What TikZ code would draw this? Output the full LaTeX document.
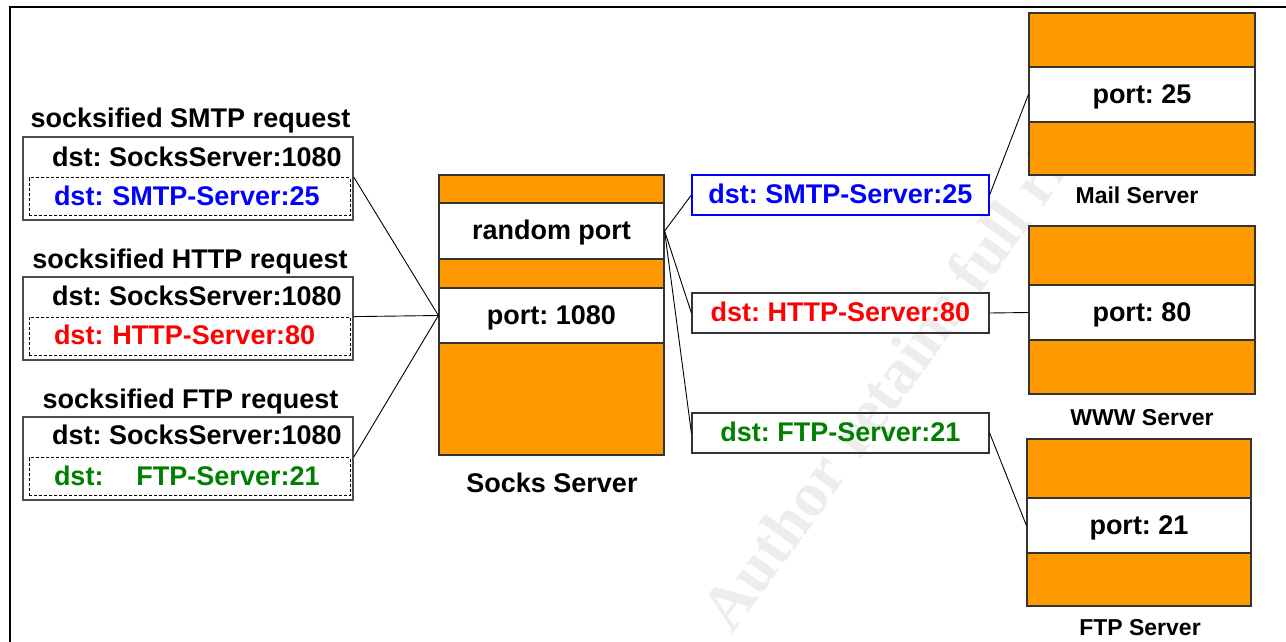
\documentclass[tikz,border=0pt]{standalone}
\usepackage{fontspec}
\setmainfont{Liberation Sans}
\newfontfamily\wmfont{Liberation Serif}
\usepackage{tikz}

\definecolor{srvorange}{RGB}{255,153,0}
\definecolor{smtpblue}{RGB}{0,0,255}
\definecolor{httpred}{RGB}{255,0,0}
\definecolor{ftpgreen}{RGB}{0,128,0}

\begin{document}
\frenchspacing
\begin{tikzpicture}
    [
      x=1pt, y=-1pt,
      every node/.style={font=\bfseries\fontsize{27}{32}\selectfont},
      boxtext/.style={text height=19pt, text depth=2pt},
      request/.style={draw=black!70, line width=1.5pt, minimum width=330pt, minimum height=83pt},
      wrapped/.style={boxtext, draw, line width=0.8pt, dash pattern=on 3pt off 2pt, minimum width=321pt, minimum height=38pt, text width=271pt, inner xsep=25pt, inner ysep=0pt, align=left},
      fwd/.style={boxtext, draw=black!80, line width=1.2pt, minimum width=297pt, minimum height=40pt},
      host/.style={draw=black!80, line width=1.2pt, fill=srvorange},
      port/.style={boxtext, draw=black!80, line width=1.2pt, fill=white, minimum height=55pt},
      hostname/.style={anchor=base, font=\bfseries\fontsize{23}{26}\selectfont},
      link/.style={black, line width=0.9pt},
    ]
    \useasboundingbox (0,0) rectangle (1286,642);

    \node (wmark) [rotate=54, text=black!7, font=\wmfont\bfseries\fontsize{64}{70}\selectfont] at (922,348) {Author retains full rights}; % watermark
    \draw [line width=2.5pt] (10,642) -- (10,7) -- (1286,7);

    % socksified requests
    \node (smtp-req) [request] at (188,178.5) {};
    \node (smtp-title) [anchor=base] at (190.5,128) {socksified SMTP request};
    \node (smtp-socks) [anchor=base east, inner sep=0pt] at (342,166) {dst: SocksServer:1080};
    \node (smtp-dst) [wrapped, text=smtpblue] at (189.5,196.5) {dst: SMTP-Server:25};

    \node (http-req) [request] at (188,318.5) {};
    \node (http-title) [anchor=base] at (190,268) {socksified HTTP request};
    \node (http-socks) [anchor=base east, inner sep=0pt] at (342,305) {dst: SocksServer:1080};
    \node (http-dst) [wrapped, text=httpred] at (189.5,336) {dst: HTTP-Server:80};

    \node (ftp-req) [request] at (188,458.5) {};
    \node (ftp-title) [anchor=base] at (190.5,408) {socksified FTP request};
    \node (ftp-socks) [anchor=base east, inner sep=0pt] at (342,444) {dst: SocksServer:1080};
    \node (ftp-dst) [wrapped, text=ftpgreen] at (189.5,476.5) {dst:\hspace{33pt}FTP-Server:21};

    % socks server
    \node (socks) [host, minimum width=225pt, minimum height=280pt] at (551.5,315) {};
    \node (rand-port) [port, minimum width=225pt, minimum height=56pt] at (551.5,231) {random port};
    \node (socks-port) [port, minimum width=225pt] at (551.5,315.5) {port: 1080};
    \node (socks-name) [anchor=base] at (552,492) {Socks Server};

    % forwarded requests
    \node (smtp-fwd) [fwd, draw=smtpblue, text=smtpblue] at (840.5,195) {dst: SMTP-Server:25};
    \node (http-fwd) [fwd, text=httpred] at (840.5,313) {dst: HTTP-Server:80};
    \node (ftp-fwd) [fwd, text=ftpgreen] at (840.5,433) {dst: FTP-Server:21};

    % target servers
    \node (mail) [host, minimum width=226pt, minimum height=162pt] at (1142,94) {};
    \node (mail-port) [port, minimum width=226pt] at (1142,94.5) {port: 25};
    \node (mail-name) [hostname] at (1137,203) {Mail Server};
    \node (www) [host, minimum width=226pt, minimum height=168pt] at (1142,310) {};
    \node (www-port) [port, minimum width=226pt] at (1142,312.5) {port: 80};
    \node (www-name) [hostname] at (1142,425) {WWW Server};
    \node (ftp) [host, minimum width=224pt, minimum height=167pt] at (1139,522.5) {};
    \node (ftp-port) [port, minimum width=224pt] at (1139,525.5) {port: 21};
    \node (ftp-name) [hostname] at (1140,635) {FTP Server};

    \path
    (smtp-req.east |- smtp-dst.north) edge [link] (socks-port.west)
    (http-req.east |- http-dst.north) edge [link] (socks-port.west)
    (ftp-req.east |- ftp-dst.north) edge [link] (socks-port.west)
    (rand-port.east) edge [link] (smtp-fwd.west)
    (rand-port.east) edge [link] (http-fwd.west)
    (rand-port.east) edge [link] (ftp-fwd.west)
    (smtp-fwd.east) edge [link] (mail-port.west)
    (http-fwd.east) edge [link] (www-port.west)
    (ftp-fwd.east) edge [link] (ftp-port.west)
    ;

  \end{tikzpicture}
\end{document}
